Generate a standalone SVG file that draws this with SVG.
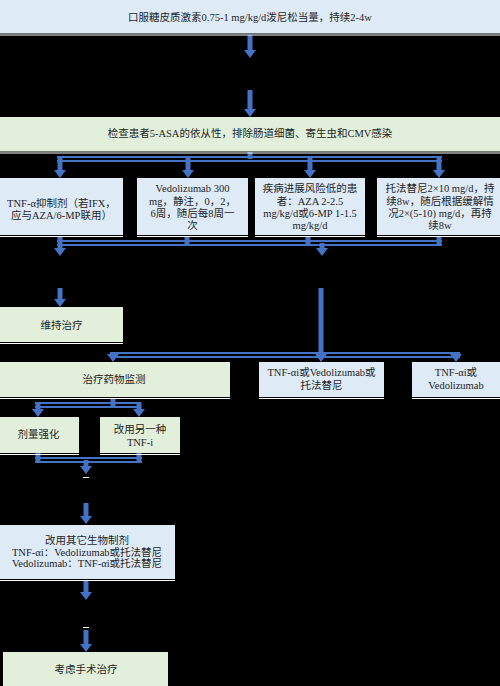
<svg xmlns="http://www.w3.org/2000/svg" width="500" height="686" viewBox="0 0 500 686">
<defs>
<marker id="ah" viewBox="0 0 8 12" refX="2" refY="6" markerWidth="8" markerHeight="12" markerUnits="userSpaceOnUse" orient="auto"><path d="M0,0 L8,6 L0,12 z" fill="#4472C4"/></marker>
</defs>
<style>
text{font-family:"Liberation Serif","Noto Sans CJK SC",serif;font-size:10.5px;fill:#1e1e1e;text-anchor:middle}
.b{fill:#DEEAF6}
.g{fill:#E2EFDA}
.edge{stroke:#FFFFFF;stroke-width:1}
.sh{stroke:#4472C4;stroke-width:5;fill:none}
.hl{stroke:#4472C4;stroke-width:2;fill:none}
.wd{stroke:#FFFFFF;stroke-width:1}
</style>
<rect x="0" y="0" width="500" height="686" fill="#000000"/>

<g id="connectors">
<path class="sh" d="M250,35 V52" marker-end="url(#ah)"/>
<path class="sh" d="M250,90 V111" marker-end="url(#ah)"/>

<path class="sh" d="M250,152 V159"/>
<line class="hl" x1="57" y1="157" x2="442" y2="157"/>
<line class="hl" x1="57" y1="161" x2="442" y2="161"/>
<path class="sh" d="M60,156 V172" marker-end="url(#ah)"/>
<path class="sh" d="M188,156 V172" marker-end="url(#ah)"/>
<path class="sh" d="M310,156 V172" marker-end="url(#ah)"/>
<path class="sh" d="M439,156 V172" marker-end="url(#ah)"/>

<path class="sh" d="M187,236 V245"/>
<path class="sh" d="M308,236 V245"/>
<path class="sh" d="M439,236 V245"/>
<line class="hl" x1="57" y1="241" x2="442" y2="241"/>
<line class="hl" x1="57" y1="245" x2="442" y2="245"/>
<path class="sh" d="M60,236 V250" marker-end="url(#ah)"/>
<path class="sh" d="M322,243 V250" marker-end="url(#ah)"/>
<path class="sh" d="M60,288 V301" marker-end="url(#ah)"/>
<path class="sh" d="M321,288 V356" marker-end="url(#ah)"/>

<line class="hl" x1="110" y1="353" x2="460" y2="353"/>
<line class="hl" x1="110" y1="357" x2="460" y2="357"/>
<path class="sh" d="M113,352 V356" marker-end="url(#ah)"/>
<path class="sh" d="M456,352 V356" marker-end="url(#ah)"/>

<path class="sh" d="M113,398 V407"/>
<line class="hl" x1="35" y1="403" x2="141" y2="403"/>
<line class="hl" x1="35" y1="407" x2="141" y2="407"/>
<path class="sh" d="M38,402 V411" marker-end="url(#ah)"/>
<path class="sh" d="M139,402 V411" marker-end="url(#ah)"/>

<path class="sh" d="M38,453 V462"/>
<path class="sh" d="M139,453 V462"/>
<line class="hl" x1="35" y1="458" x2="142" y2="458"/>
<line class="hl" x1="35" y1="462" x2="142" y2="462"/>
<path class="sh" d="M86,460 V468" marker-end="url(#ah)"/>
<line class="wd" x1="83" y1="477.5" x2="89" y2="477.5"/>
<path class="sh" d="M86,503 V518" marker-end="url(#ah)"/>

<path class="sh" d="M86,580 V594" marker-end="url(#ah)"/>
<line class="wd" x1="83" y1="627.5" x2="89" y2="627.5"/>
<path class="sh" d="M86,630 V646" marker-end="url(#ah)"/>
</g>

<g id="n1"><rect class="b" x="0" y="0" width="500" height="33.5"/><line class="edge" x1="0" y1="35" x2="500" y2="35"/>
<text x="250" y="20.7">口服糖皮质激素0.75-1 mg/kg/d泼尼松当量，持续2-4w</text></g>

<g id="n2"><rect class="g" x="0" y="117" width="500" height="34.5"/><line class="edge" x1="0" y1="153" x2="500" y2="153"/>
<text x="250" y="136.7">检查患者5-ASA的依从性，排除肠道细菌、寄生虫和CMV感染</text></g>

<g id="n3a"><rect class="b" x="0" y="178" width="123" height="57"/><line class="edge" x1="0" y1="236.5" x2="123" y2="236.5"/>
<text x="61.5"><tspan x="61.5" y="206.5">TNF-α抑制剂（若IFX，</tspan><tspan x="61.5" y="219">应与AZA/6-MP联用）</tspan></text></g>

<g id="n3b"><rect class="b" x="137" y="178" width="111" height="57"/><line class="edge" x1="137" y1="236.5" x2="248" y2="236.5"/>
<text x="192.5"><tspan x="192.5" y="192">Vedolizumab 300</tspan><tspan x="192.5" y="204.5">mg，静注，0，2，</tspan><tspan x="192.5" y="217">6周，随后每8周一</tspan><tspan x="192.5" y="229">次</tspan></text></g>

<g id="n3c"><rect class="b" x="255" y="178" width="110" height="57"/><line class="edge" x1="255" y1="236.5" x2="365" y2="236.5"/>
<text x="310"><tspan x="310" y="192">疾病进展风险低的患</tspan><tspan x="310" y="204.5">者：AZA 2-2.5</tspan><tspan x="310" y="217">mg/kg/d或6-MP 1-1.5</tspan><tspan x="310" y="229">mg/kg/d</tspan></text></g>

<g id="n3d"><rect class="b" x="377" y="178" width="123" height="57"/><line class="edge" x1="377" y1="236.5" x2="500" y2="236.5"/>
<text x="440"><tspan x="440" y="192">托法替尼2×10 mg/d，持</tspan><tspan x="440" y="204.5">续8w，随后根据缓解情</tspan><tspan x="440" y="217">况2×(5-10) mg/d，再持</tspan><tspan x="440" y="229">续8w</tspan></text></g>

<g id="n4"><rect class="g" x="0" y="307" width="123" height="35"/><line class="edge" x1="0" y1="343.5" x2="123" y2="343.5"/>
<text x="61.5" y="328.7">维持治疗</text></g>

<g id="n5"><rect class="g" x="0" y="362" width="230" height="35"/><line class="edge" x1="0" y1="398.5" x2="230" y2="398.5"/>
<text x="114" y="382.7">治疗药物监测</text></g>

<g id="n6"><rect class="b" x="259" y="362" width="125" height="35"/><line class="edge" x1="259" y1="398.5" x2="384" y2="398.5"/>
<text x="321.5"><tspan x="321.5" y="376.4">TNF-αi或Vedolizumab或</tspan><tspan x="321.5" y="388.7">托法替尼</tspan></text></g>

<g id="n7"><rect class="b" x="412" y="362" width="88" height="35"/><line class="edge" x1="412" y1="398.5" x2="500" y2="398.5"/>
<text x="456"><tspan x="456" y="376.4">TNF-αi或</tspan><tspan x="456" y="388.7">Vedolizumab</tspan></text></g>

<g id="n8"><rect class="g" x="0" y="417" width="79" height="36"/><line class="edge" x1="0" y1="454.5" x2="79" y2="454.5"/>
<text x="38.5" y="437.7">剂量强化</text></g>

<g id="n9"><rect class="g" x="100" y="417" width="80" height="36"/><line class="edge" x1="100" y1="454.5" x2="180" y2="454.5"/>
<text x="140"><tspan x="140" y="432.7">改用另一种</tspan><tspan x="140" y="445.7">TNF-i</tspan></text></g>

<g id="n10"><rect class="b" x="0" y="525" width="175" height="54"/><line class="edge" x1="0" y1="580.5" x2="175" y2="580.5"/>
<text x="87"><tspan x="87" y="543.7">改用其它生物制剂</tspan><tspan x="87" y="555.7">TNF-αi：Vedolizumab或托法替尼</tspan><tspan x="87" y="567">Vedolizumab：TNF-αi或托法替尼</tspan></text></g>

<g id="n11"><rect class="g" x="3" y="652" width="165" height="34"/>
<text x="86" y="672.7">考虑手术治疗</text></g>
</svg>
